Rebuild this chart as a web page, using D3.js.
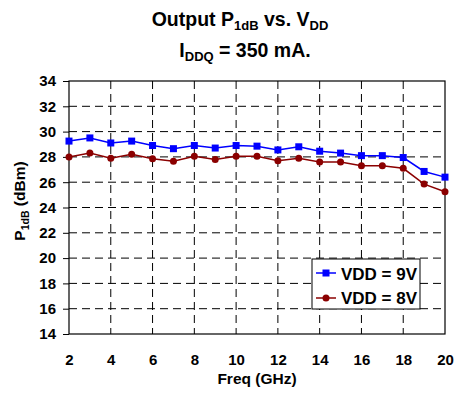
<!DOCTYPE html>
<html>
<head>
<meta charset="utf-8">
<script src="https://cdn.jsdelivr.net/npm/d3@7"></script>
<style>
body { margin: 0; background: #fff; }
text { font-family: "Liberation Sans", Arial, sans-serif; font-weight: bold; }
</style>
</head>
<body>
<svg width="458" height="400"></svg>
<script>
var freq = [2, 3, 4, 5, 6, 7, 8, 9, 10, 11, 12, 13, 14, 15, 16, 17, 18, 19, 20];
var vdd9 = [29.25, 29.5, 29.1, 29.25, 28.9, 28.65, 28.9, 28.7, 28.9, 28.85, 28.55, 28.8, 28.45, 28.3, 28.1, 28.1, 27.95, 26.85, 26.4];
var vdd8 = [28.0, 28.3, 27.9, 28.2, 27.85, 27.65, 28.05, 27.8, 28.05, 28.05, 27.7, 27.9, 27.6, 27.6, 27.3, 27.3, 27.1, 25.85, 25.25];
var xTicks = [2, 4, 6, 8, 10, 12, 14, 16, 18, 20];
var yTicks = [14, 16, 18, 20, 22, 24, 26, 28, 30, 32, 34];

var svg = d3.select('svg');
var plotL = 69, plotR = 445, plotT = 81, plotB = 334;

var x = d3.scaleLinear().domain([2, 20]).range([plotL, plotR]);
var y = d3.scaleLinear().domain([14, 34]).range([plotB, plotT]);

// grid
svg.append('g').selectAll('line')
	.data(yTicks.slice(1, -1))
	.enter().append('line')
	.attr('x1', plotL).attr('x2', plotR)
	.attr('y1', function(d) { return y(d); })
	.attr('y2', function(d) { return y(d); })
	.attr('stroke', '#000')
	.attr('stroke-dasharray', '8,5');
svg.append('g').selectAll('line')
	.data(xTicks.slice(1, -1))
	.enter().append('line')
	.attr('y1', plotT).attr('y2', plotB)
	.attr('x1', function(d) { return x(d); })
	.attr('x2', function(d) { return x(d); })
	.attr('stroke', '#000')
	.attr('stroke-dasharray', '8,5');

svg.append('rect')
	.attr('x', plotL).attr('y', plotT)
	.attr('width', plotR - plotL).attr('height', plotB - plotT)
	.attr('fill', 'none').attr('stroke', '#000').attr('stroke-width', 1.2);

// axes
var yAxis = d3.axisLeft(y).tickValues(yTicks).tickSize(6).tickSizeOuter(0).tickPadding(7);
var gy = svg.append('g').attr('transform', 'translate(' + plotL + ',0)').call(yAxis);
var xAxis = d3.axisBottom(x).tickValues(xTicks).tickSize(0).tickSizeOuter(0).tickPadding(20);
var gx = svg.append('g').attr('transform', 'translate(0,' + plotB + ')').call(xAxis);
[gx, gy].forEach(function(g) {
	g.select('.domain').remove();
	g.selectAll('text').style('font-size', '15px').style('font-family', '"Liberation Sans", Arial, sans-serif').style('font-weight', 'bold').attr('fill', '#000');
});

// series
var line = d3.line()
	.x(function(d, i) { return x(freq[i]); })
	.y(function(d) { return y(d); });

svg.append('path').datum(vdd8).attr('d', line)
	.attr('fill', 'none').attr('stroke', '#8b0000').attr('stroke-width', 1.5);
svg.append('g').selectAll('circle')
	.data(vdd8).enter().append('circle')
	.attr('cx', function(d, i) { return x(freq[i]); })
	.attr('cy', function(d) { return y(d); })
	.attr('r', 3.5).attr('fill', '#8b0000');

svg.append('path').datum(vdd9).attr('d', line)
	.attr('fill', 'none').attr('stroke', '#0000ff').attr('stroke-width', 1.5);
svg.append('g').selectAll('rect')
	.data(vdd9).enter().append('rect')
	.attr('x', function(d, i) { return x(freq[i]) - 3.5; })
	.attr('y', function(d) { return y(d) - 3.5; })
	.attr('width', 7).attr('height', 7).attr('fill', '#0000ff');

// legend
var leg = svg.append('g').attr('transform', 'translate(312,259)');
leg.append('rect').attr('width', 108).attr('height', 50)
	.attr('fill', '#fff').attr('stroke', '#000');
leg.append('line').attr('x1', 4).attr('x2', 24).attr('y1', 14).attr('y2', 14)
	.attr('stroke', '#0000ff').attr('stroke-width', 1.5);
leg.append('rect').attr('x', 10.5).attr('y', 10.5).attr('width', 7).attr('height', 7).attr('fill', '#0000ff');
leg.append('text').attr('x', 29).attr('y', 20.5).style('font-size', '17px').text('VDD = 9V');
leg.append('line').attr('x1', 4).attr('x2', 24).attr('y1', 39).attr('y2', 39)
	.attr('stroke', '#8b0000').attr('stroke-width', 1.5);
leg.append('circle').attr('cx', 14).attr('cy', 39).attr('r', 3.5).attr('fill', '#8b0000');
leg.append('text').attr('x', 29).attr('y', 45).style('font-size', '17px').text('VDD = 8V');

// titles
var t1 = svg.append('text').attr('x', 240).attr('y', 26).attr('text-anchor', 'middle').style('font-size', '19.5px');
t1.append('tspan').text('Output P');
t1.append('tspan').attr('dy', 4).style('font-size', '13px').text('1dB');
t1.append('tspan').attr('dy', -4).text(' vs. V');
t1.append('tspan').attr('dy', 4).style('font-size', '13px').text('DD');

var t2 = svg.append('text').attr('x', 245).attr('y', 57).attr('text-anchor', 'middle').style('font-size', '19.5px');
t2.append('tspan').text('I');
t2.append('tspan').attr('dy', 4).style('font-size', '13px').text('DDQ');
t2.append('tspan').attr('dy', -4).text(' = 350 mA.');

svg.append('text').attr('x', 257).attr('y', 384).attr('text-anchor', 'middle')
	.style('font-size', '15.5px').text('Freq (GHz)');

var yl = svg.append('text').attr('transform', 'translate(25,201) rotate(-90)')
	.attr('text-anchor', 'middle').style('font-size', '15.5px');
yl.append('tspan').text('P');
yl.append('tspan').attr('dy', 4).style('font-size', '10.5px').text('1dB');
yl.append('tspan').attr('dy', -4).text(' (dBm)');
</script>
</body>
</html>
